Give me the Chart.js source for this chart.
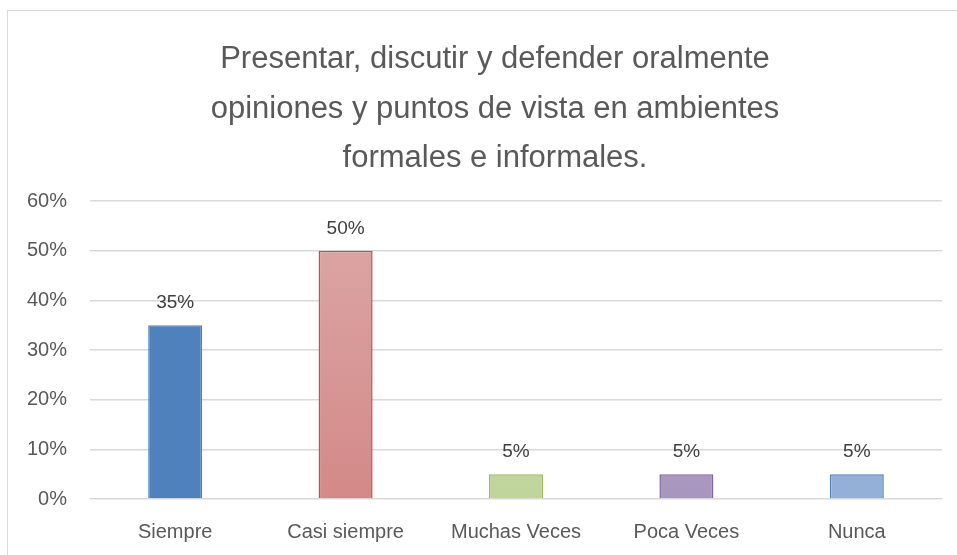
<!DOCTYPE html>
<html>
<head>
<meta charset="utf-8">
<script src="https://cdn.jsdelivr.net/npm/chart.js@4.4.1/dist/chart.umd.min.js"></script>
<style>
  html, body { margin: 0; padding: 0; background: #fff; }
  #wrap { position: relative; width: 957px; height: 555px; overflow: hidden; }
  #frame { position: absolute; left: 7px; top: 10px; width: 1000px; height: 600px; border-left: 1.5px solid #d9d9d9; border-top: 1.5px solid #d9d9d9; pointer-events: none; }
</style>
</head>
<body>
<div id="wrap">
  <canvas id="chart" width="957" height="555"></canvas>
  <div id="frame"></div>
</div>
<script>
const titleLines = [
    'Presentar, discutir y defender oralmente',
    'opiniones y puntos de vista en ambientes',
    'formales e informales.'
];
const categories = ['Siempre', 'Casi siempre', 'Muchas Veces', 'Poca Veces', 'Nunca'];
const values = [0.35, 0.50, 0.05, 0.05, 0.05];
const yTicks = [0, 0.1, 0.2, 0.3, 0.4, 0.5, 0.6];

// [top colour, bottom colour, border]
const barStyles = [
    ['#4f81bd', '#4f81bd', '#4f81bd'],
    ['#dca9a8', '#d38988', '#c0504d'],
    ['#cbddaf', '#bfd59c', '#9bbb59'],
    ['#bcadcf', '#a996be', '#8064a2'],
    ['#aec3e2', '#93afd6', '#4f81bd']
];

const pct = v => Math.round(v * 100) + '%';
const font = "'Liberation Sans', Arial, sans-serif";

const labelPlugin = {
    id: 'barLabels',
    afterDatasetsDraw(chart) {
        const ctx = chart.ctx;
        const meta = chart.getDatasetMeta(0);
        ctx.save();
        ctx.font = '19px ' + font;
        ctx.fillStyle = '#404040';
        ctx.textAlign = 'center';
        ctx.textBaseline = 'alphabetic';
        meta.data.forEach((bar, i) => {
            ctx.fillText(pct(values[i]), bar.x, bar.y - 17);
        });
        ctx.restore();
    }
};

const titlePlugin = {
    id: 'multiTitle',
    afterDraw(chart) {
        const ctx = chart.ctx;
        ctx.save();
        ctx.font = '31px ' + font;
        ctx.fillStyle = '#595959';
        ctx.textAlign = 'center';
        ctx.textBaseline = 'alphabetic';
        titleLines.forEach((line, i) => {
            ctx.fillText(line, 495, 68 + i * 49.5);
        });
        ctx.restore();
    }
};

new Chart(document.getElementById('chart').getContext('2d'), {
    type: 'bar',
    data: {
        labels: categories,
        datasets: [{
            data: values,
            backgroundColor: c => {
                const area = c.chart.chartArea;
                const s = barStyles[c.dataIndex];
                if (!area) return s[0];
                const g = c.chart.ctx.createLinearGradient(0, area.top, 0, area.bottom);
                g.addColorStop(0, s[0]);
                g.addColorStop(1, s[1]);
                return g;
            },
            borderColor: barStyles.map(s => s[2]),
            borderWidth: 1.5,
            barPercentage: 0.317,
            categoryPercentage: 1
        }]
    },
    plugins: [labelPlugin, titlePlugin],
    options: {
        responsive: false,
        animation: false,
        layout: { padding: { left: 0, right: 15, top: 201, bottom: 0 } },
        plugins: {
            legend: { display: false },
            title: { display: false },
            tooltip: { enabled: false }
        },
        scales: {
            x: {
                grid: { display: false, drawTicks: false },
                border: { display: false },
                afterFit: axis => { axis.height = 56; },
                ticks: { color: '#595959', font: { size: 20, family: font }, padding: 21 }
            },
            y: {
                min: 0,
                max: 0.6,
                afterBuildTicks: axis => { axis.ticks = yTicks.map(v => ({ value: v })); },
                afterFit: axis => { axis.width = 90; },
                grid: { color: '#d9d9d9', lineWidth: 1.5, drawTicks: false },
                border: { display: false },
                ticks: { color: '#595959', font: { size: 20, family: font }, padding: 23, callback: v => pct(v) }
            }
        }
    }
});
</script>
</body>
</html>
